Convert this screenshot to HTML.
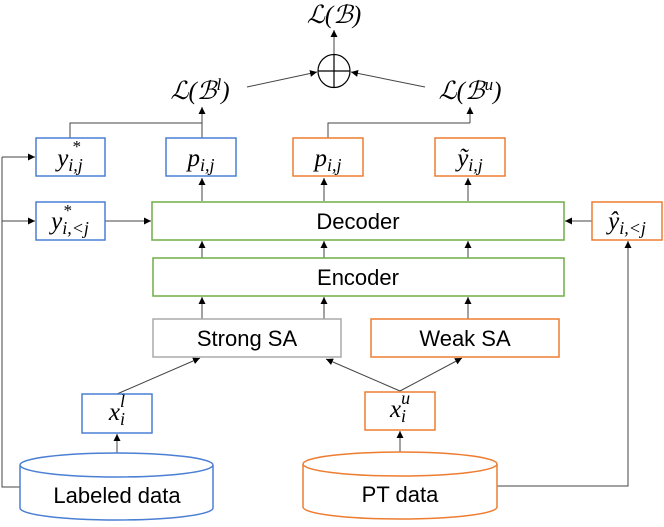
<!DOCTYPE html>
<html><head><meta charset="utf-8"><style>
html,body{margin:0;padding:0;background:#fff;}
svg{display:block;}
.m{font-family:"Liberation Serif",serif;font-style:italic;}
.t{font-family:"Liberation Sans",sans-serif;}
</style></head><body>
<svg width="664" height="527" viewBox="0 0 664 527" xmlns="http://www.w3.org/2000/svg">
<defs><marker id="a" markerWidth="8" markerHeight="8" refX="7" refY="4" orient="auto" markerUnits="userSpaceOnUse"><path d="M0,0.5 L7,4 L0,7.5 z" fill="#000"/></marker></defs>
<g stroke="#444" stroke-width="1" fill="none">
<line x1="334" y1="54" x2="334" y2="30" marker-end="url(#a)"/>
<line x1="247" y1="87" x2="317" y2="72" marker-end="url(#a)"/>
<line x1="425" y1="87" x2="351" y2="72" marker-end="url(#a)"/>
<polyline points="70,138 70,123 202,123"/>
<line x1="202" y1="138" x2="202" y2="107" marker-end="url(#a)"/>
<polyline points="328,138 328,123 470,123"/>
<line x1="470" y1="123" x2="470" y2="107" marker-end="url(#a)"/>
<line x1="202" y1="201" x2="202" y2="178" marker-end="url(#a)"/>
<line x1="324" y1="201" x2="324" y2="178" marker-end="url(#a)"/>
<line x1="468" y1="201" x2="468" y2="178" marker-end="url(#a)"/>
<line x1="202" y1="258" x2="202" y2="241" marker-end="url(#a)"/>
<line x1="324" y1="258" x2="324" y2="241" marker-end="url(#a)"/>
<line x1="468" y1="258" x2="468" y2="241" marker-end="url(#a)"/>
<line x1="202" y1="319" x2="202" y2="297" marker-end="url(#a)"/>
<line x1="324" y1="319" x2="324" y2="297" marker-end="url(#a)"/>
<line x1="468" y1="319" x2="468" y2="297" marker-end="url(#a)"/>
<line x1="117" y1="394" x2="200" y2="358" marker-end="url(#a)"/>
<line x1="400" y1="391" x2="326" y2="359" marker-end="url(#a)"/>
<line x1="400" y1="391" x2="462" y2="358" marker-end="url(#a)"/>
<line x1="117" y1="453" x2="117" y2="434" marker-end="url(#a)"/>
<line x1="400" y1="452" x2="400" y2="431" marker-end="url(#a)"/>
<polyline points="20,487 2,487 2,157"/>
<line x1="2" y1="157" x2="35" y2="157" marker-end="url(#a)"/>
<line x1="2" y1="221" x2="35" y2="221" marker-end="url(#a)"/>
<line x1="105" y1="221" x2="151" y2="221" marker-end="url(#a)"/>
<line x1="592" y1="221" x2="565" y2="221" marker-end="url(#a)"/>
<polyline points="497,486 628,486 628,241"/>
<line x1="628" y1="260" x2="628" y2="241" marker-end="url(#a)"/>
</g>
<ellipse cx="334" cy="71" rx="16" ry="16.5" fill="#fff" stroke="#000" stroke-width="1.2"/>
<line x1="318" y1="71" x2="350" y2="71" stroke="#000" stroke-width="1.2"/>
<line x1="334" y1="54.5" x2="334" y2="87.5" stroke="#000" stroke-width="1.2"/>
<g fill="#fff" stroke-width="1.5">
<rect x="36" y="138" width="69" height="38" stroke="#4a7fd4"/>
<rect x="166" y="138" width="70" height="38" stroke="#4a7fd4"/>
<rect x="293" y="138" width="70" height="38" stroke="#ed7d31"/>
<rect x="435" y="138" width="70" height="38" stroke="#ed7d31"/>
<rect x="36" y="202" width="69" height="38" stroke="#4a7fd4"/>
<rect x="152" y="202" width="412" height="38" stroke="#70ad47"/>
<rect x="592" y="202" width="70" height="38" stroke="#ed7d31"/>
<rect x="153" y="258" width="411" height="38" stroke="#70ad47"/>
<rect x="153" y="319" width="188" height="38" stroke="#aaaaaa"/>
<rect x="371" y="319" width="188" height="38" stroke="#ed7d31"/>
<rect x="82" y="394" width="70" height="39" stroke="#4a7fd4"/>
<rect x="365" y="392" width="70" height="38" stroke="#ed7d31"/>
<path d="M20,465 L20,508 A96.5,12 0 0 0 213,508 L213,465 A96.5,12 0 0 0 20,465 A96.5,12 0 0 0 213,465" stroke="#4a7fd4"/>
<path d="M303,464 L303,507 A97,12 0 0 0 497,507 L497,464 A97,12 0 0 0 303,464 A97,12 0 0 0 497,464" stroke="#ed7d31"/>
</g>
<g class="t" font-size="22" text-anchor="middle" fill="#000">
<text x="358" y="229">Decoder</text>
<text x="358" y="285">Encoder</text>
<text x="247" y="346">Strong SA</text>
<text x="465" y="346">Weak SA</text>
<text x="117" y="503">Labeled data</text>
<text x="400" y="502">PT data</text>
</g>
<g class="m" font-size="25" text-anchor="middle" fill="#000">
<text x="334" y="23">ℒ(ℬ)</text>
<text x="200" y="99">ℒ(ℬ<tspan font-size="17" dy="-9">l</tspan><tspan dy="9">)</tspan></text>
<text x="470" y="99">ℒ(ℬ<tspan font-size="17" dy="-9">u</tspan><tspan dy="9">)</tspan></text>
<text x="70" y="166">y<tspan font-size="18" dy="5">i,j</tspan></text>
<text x="76" y="152" font-size="17">*</text>
<text x="201" y="166">p<tspan font-size="18" dy="5">i,j</tspan></text>
<text x="328" y="166">p<tspan font-size="18" dy="5">i,j</tspan></text>
<text x="470" y="166">ỹ<tspan font-size="18" dy="5">i,j</tspan></text>
<text x="70" y="229">y<tspan font-size="18" dy="5">i,&lt;j</tspan></text>
<text x="67" y="216" font-size="17">*</text>
<text x="627" y="229">ŷ<tspan font-size="18" dy="5">i,&lt;j</tspan></text>
<text x="117" y="420">x<tspan font-size="18" dy="5">i</tspan><tspan font-size="18" dx="-5" dy="-18">l</tspan></text>
<text x="400" y="417">x<tspan font-size="18" dy="5">i</tspan><tspan font-size="18" dx="-5" dy="-18">u</tspan></text>
</g>
</svg>
</body></html>
